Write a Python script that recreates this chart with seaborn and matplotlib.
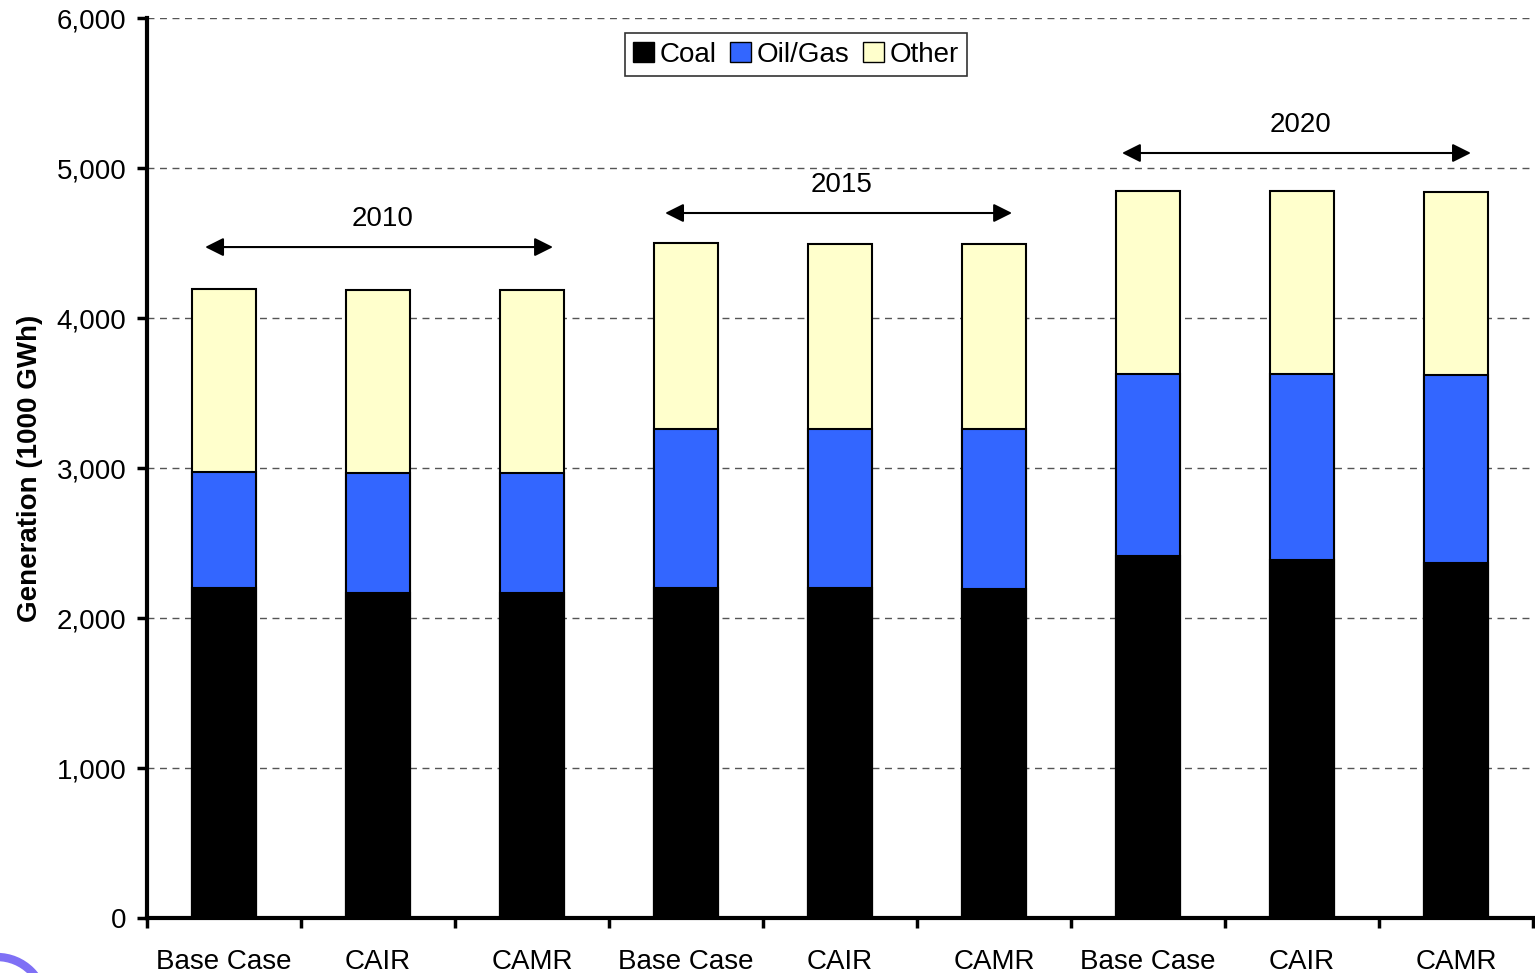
import matplotlib
matplotlib.use("Agg")
import matplotlib.pyplot as plt
import seaborn as sns
import pandas as pd
import numpy as np
from matplotlib.patches import Patch, Ellipse

categories = ["Base Case", "CAIR", "CAMR"] * 3
years = ["2010", "2015", "2020"]
coal = [2200, 2167, 2167, 2200, 2200, 2193, 2413, 2387, 2367]
oil_gas = [773, 800, 800, 1060, 1060, 1067, 1214, 1240, 1253]
other = [1220, 1220, 1220, 1240, 1235, 1235, 1220, 1220, 1220]

sns.set_theme(style="white")
plt.rcParams['font.family'] = ['Liberation Sans', 'DejaVu Sans']
for k in ["text.color", "axes.labelcolor", "xtick.color", "ytick.color"]:
    plt.rcParams[k] = "black"

ids = [f"{y} {c}" for y in years for c in ["Base Case", "CAIR", "CAMR"]]
df = pd.DataFrame({"id": ids, "cat": categories, "coal": coal,
                   "oil": oil_gas, "other": other})
df["lvl1"] = df["coal"]
df["lvl2"] = df["coal"] + df["oil"]
df["lvl3"] = df["lvl2"] + df["other"]

fig = plt.figure(figsize=(15.35, 9.73), dpi=100)
ax = fig.add_axes([0.0958, 0.0565, 0.9029, 0.925])

c_coal, c_oil, c_other = "#000000", "#3366FF", "#FFFFCC"
bw = 0.41
for col, color in [("lvl3", c_other), ("lvl2", c_oil), ("lvl1", c_coal)]:
    sns.barplot(data=df, x="id", y=col, color=color, width=bw, ax=ax,
                edgecolor="black", linewidth=1.5, saturation=1, zorder=3)

FS = 20
ax.set_xlim(-0.5, 8.5)
ax.set_ylim(0, 6000)
ax.set_yticks(np.arange(0, 6001, 1000))
ax.set_yticklabels([f"{v:,}" for v in range(0, 6001, 1000)], fontsize=FS)
ax.set_xticks(range(9))
ax.set_xticklabels(categories, fontsize=FS)
ax.set_xticks(np.arange(-0.5, 9, 1), minor=True)
ax.tick_params(axis="x", which="major", length=0, pad=22)
ax.tick_params(axis="x", which="minor", length=7, width=2.5, color="black", direction="out", bottom=True)
ax.tick_params(axis="y", length=7, width=2.5, color="black", direction="out", left=True, pad=8)
ax.set_xlabel("")
ax.set_ylabel("Generation (1000 GWh)", fontsize=FS, fontweight="bold", labelpad=10)

ax.grid(axis="y", linestyle=(0, (5, 4)), color="#555555", linewidth=1, zorder=0)
ax.set_axisbelow(True)
for s in ["top", "right"]:
    ax.spines[s].set_visible(False)
for s in ["left", "bottom"]:
    ax.spines[s].set_color("black")
    ax.spines[s].set_linewidth(3)
    ax.spines[s].set_zorder(5)

# year arrows
arrows = [(-0.123, 2.136, 4473, 1.03, 4660, "2010"),
          (2.864, 5.117, 4700, 4.01, 4885, "2015"),
          (5.831, 8.097, 5100, 6.99, 5290, "2020")]
for x0, x1, y, tx, ty, lab in arrows:
    ax.annotate("", xy=(x1, y), xytext=(x0, y),
                arrowprops=dict(arrowstyle="<|-|>", color="black", lw=1.5,
                                mutation_scale=28, shrinkA=0, shrinkB=0), zorder=6)
    ax.text(tx, ty, lab, fontsize=FS, ha="center", va="center", zorder=6)

handles = [Patch(facecolor=c_coal, edgecolor="black", label="Coal"),
           Patch(facecolor=c_oil, edgecolor="black", label="Oil/Gas"),
           Patch(facecolor=c_other, edgecolor="black", label="Other")]
leg = ax.legend(handles=handles, loc="upper center", bbox_to_anchor=(0.4683, 0.983),
                borderaxespad=0, ncol=3, fontsize=FS, frameon=True, fancybox=False,
                handlelength=0.75, handleheight=0.75, handletextpad=0.2,
                columnspacing=0.5, borderpad=0.3, edgecolor="black")
leg.get_frame().set_linewidth(1.2)

# decorative logo fragment (bottom-left corner)
fig.add_artist(Ellipse((-3 / 1535, (973 - 1005) / 973), 2 * 48 / 1535, 2 * 48 / 973,
                       transform=fig.transFigure, fill=False,
                       edgecolor="#7F70F5", linewidth=6))

fig.savefig("out.png", dpi=100)
